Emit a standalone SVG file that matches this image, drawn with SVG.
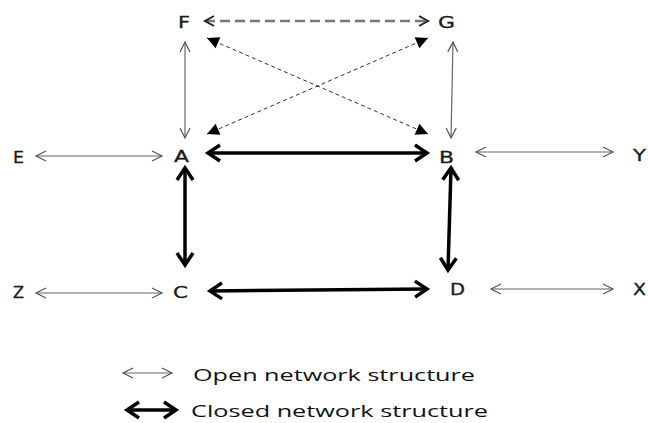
<svg xmlns="http://www.w3.org/2000/svg" width="648" height="423" viewBox="0 0 648 423">
<style>
.lbl{font-family:"DejaVu Sans","Liberation Sans",sans-serif;font-size:16px;fill:#1a1a1a;stroke:#1a1a1a;stroke-width:0.3}
.leg{font-family:"Open Sans","Liberation Sans",sans-serif;font-size:17px;fill:#111}
.open{stroke:#666;stroke-width:1.2;fill:none;marker-start:url(#mo);marker-end:url(#mo)}
.closed{stroke:#000;stroke-width:3.5;fill:none;marker-start:url(#mc);marker-end:url(#mc)}
.dtop{stroke:#777;stroke-width:2.5;stroke-dasharray:10 5;fill:none;marker-start:url(#md);marker-end:url(#md)}
.diag{stroke:#333;stroke-width:1;stroke-dasharray:4 3;fill:none;marker-start:url(#mt);marker-end:url(#mt)}
</style>
<defs>
<marker id="mo" markerUnits="userSpaceOnUse" markerWidth="14" markerHeight="14" refX="11" refY="6" orient="auto-start-reverse" overflow="visible">
<path d="M1,1 L11,6 L1,11" fill="none" stroke="#555" stroke-width="1.2"/>
</marker>
<marker id="mc" markerUnits="userSpaceOnUse" markerWidth="20" markerHeight="20" refX="14" refY="9" orient="auto-start-reverse" overflow="visible">
<path d="M2,1 L14,9 L2,17" fill="none" stroke="#000" stroke-width="3.5" stroke-linejoin="miter"/>
</marker>
<marker id="md" markerUnits="userSpaceOnUse" markerWidth="14" markerHeight="14" refX="10" refY="6" orient="auto-start-reverse" overflow="visible">
<path d="M1,1 L10,6 L1,11" fill="none" stroke="#222" stroke-width="2"/>
</marker>
<marker id="mt" markerUnits="userSpaceOnUse" markerWidth="16" markerHeight="16" refX="12" refY="6" orient="auto-start-reverse" overflow="visible">
<path d="M0,0 L12,6 L0,12 Z" fill="#000"/>
</marker>
</defs>
<g id="connectors">
<line class="dtop" x1="205" y1="21" x2="428" y2="21"/>
<line class="open" x1="185" y1="42" x2="185" y2="138"/>
<line class="open" x1="453" y1="42" x2="451" y2="138"/>
<line class="diag" x1="207" y1="38" x2="428" y2="134"/>
<line class="diag" x1="428" y1="38" x2="207" y2="134"/>
<line class="closed" x1="208" y1="153" x2="427" y2="153"/>
<line class="open" x1="36" y1="156" x2="162" y2="156"/>
<line class="open" x1="476" y1="152" x2="613" y2="152"/>
<line class="closed" x1="185" y1="168" x2="185" y2="265"/>
<line class="closed" x1="451" y1="168" x2="448" y2="270"/>
<line class="closed" x1="210" y1="291" x2="427" y2="289"/>
<line class="open" x1="36" y1="293" x2="162" y2="293"/>
<line class="open" x1="491" y1="289" x2="613" y2="289"/>
</g>
<g id="node-F"><text class="lbl" x="178" y="28" textLength="12" lengthAdjust="spacingAndGlyphs">F</text></g>
<g id="node-G"><text class="lbl" x="438" y="28" textLength="17" lengthAdjust="spacingAndGlyphs">G</text></g>
<g id="node-A"><text class="lbl" x="174" y="162" textLength="15" lengthAdjust="spacingAndGlyphs">A</text></g>
<g id="node-B"><text class="lbl" x="439" y="163" textLength="15" lengthAdjust="spacingAndGlyphs">B</text></g>
<g id="node-E"><text class="lbl" x="13" y="163" textLength="11" lengthAdjust="spacingAndGlyphs">E</text></g>
<g id="node-Y"><text class="lbl" x="633" y="161" textLength="13" lengthAdjust="spacingAndGlyphs">Y</text></g>
<g id="node-Z"><text class="lbl" x="13" y="298" textLength="11" lengthAdjust="spacingAndGlyphs">Z</text></g>
<g id="node-C"><text class="lbl" x="173" y="298" textLength="15" lengthAdjust="spacingAndGlyphs">C</text></g>
<g id="node-D"><text class="lbl" x="450" y="295" textLength="15" lengthAdjust="spacingAndGlyphs">D</text></g>
<g id="node-X"><text class="lbl" x="633" y="295" textLength="13" lengthAdjust="spacingAndGlyphs">X</text></g>
<g id="legend">
<line class="open" x1="123" y1="373" x2="172" y2="373"/>
<text class="leg" x="193" y="381" textLength="282" lengthAdjust="spacingAndGlyphs">Open network structure</text>
<line class="closed" x1="127" y1="410" x2="176" y2="410"/>
<text class="leg" x="191" y="417" textLength="297" lengthAdjust="spacingAndGlyphs">Closed network structure</text>
</g>
</svg>
